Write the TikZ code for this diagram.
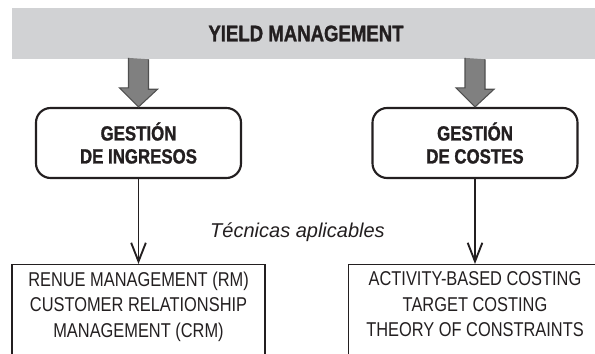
\documentclass[tikz,border=0pt]{standalone}
\usepackage{fontspec}
\setmainfont[FakeStretch=0.82,BoldFeatures={FakeBold=1.2}]{Liberation Sans}
\newfontfamily\anchasans{Liberation Sans}
\usepackage{tikz}
\usetikzlibrary{arrows.meta,calc}
\definecolor{barfill}{RGB}{209,210,212}
\definecolor{flechafill}{RGB}{128,128,128}
\definecolor{flechaline}{RGB}{80,80,80}
\definecolor{ink}{RGB}{35,31,32}

\begin{document}
\begin{tikzpicture}[x=0.75pt,y=0.75pt,
    barra/.style={fill=barfill,minimum width=441pt,minimum height=38.25pt,inner sep=0pt,
      font=\fontsize{17}{20}\selectfont\bfseries,text=ink},
    gestion/.style={draw=ink,line width=1.6pt,rounded corners=11pt,minimum width=153.75pt,
      minimum height=52.5pt,align=center,font=\fontsize{15.4}{17.25}\selectfont\bfseries,text=ink},
    tecnica/.style={draw=ink,line width=0.8pt,minimum width=189.75pt,anchor=north,align=center,
      inner ysep=5.6pt,text depth=60pt,font=\fontsize{15}{19}\selectfont,text=ink},
    flecha/.style={draw=ink,line width=1.4pt,-{Straight Barb[length=14pt,width=11pt,line width=1.4pt]}},
    bigarrow/.style={fill=flechafill,draw=flechaline,line width=0.8pt}]
    \useasboundingbox (0,0) rectangle (595,353);
    \clip (0,0) rectangle (595,353);
    \node[barra] (yield) at (306,319.5) {YIELD MANAGEMENT};
    \node[gestion] (ingresos) at (138.5,210) {GESTIÓN\\DE INGRESOS};
    \node[gestion] (costes) at (475,210) {GESTIÓN\\DE COSTES};
    \node[tecnica] (tecing) at (138.5,89) {RENUE MANAGEMENT (RM)\\CUSTOMER RELATIONSHIP\\MANAGEMENT (CRM)};
    \node[tecnica] (teccos) at (475,89) {ACTIVITY-BASED COSTING\\TARGET COSTING\\THEORY OF CONSTRAINTS};
    \node[font=\anchasans\fontsize{15}{18}\selectfont\itshape,text=ink] (aplicables) at (297.5,121) {Técnicas aplicables};
    % grey block arrows
    \coordinate (ying) at (yield.south -| ingresos.north);
    \coordinate (ycos) at (yield.south -| costes.north);
    \draw[bigarrow] ($(ying)+(10,0)$) -- ++(0,-30) -- ++(9,0) -- (ingresos.north)
      -- ++(-19,19) -- ++(9,0) -- ++(0,30);
    \draw[bigarrow] ($(ycos)+(10,0)$) -- ++(0,-30) -- ++(9,0) -- (costes.north)
      -- ++(-19,19) -- ++(9,0) -- ++(0,30);
    \path[flecha]
    (ingresos) edge (tecing)
    (costes) edge (teccos)
    ;
\end{tikzpicture}
\end{document}
